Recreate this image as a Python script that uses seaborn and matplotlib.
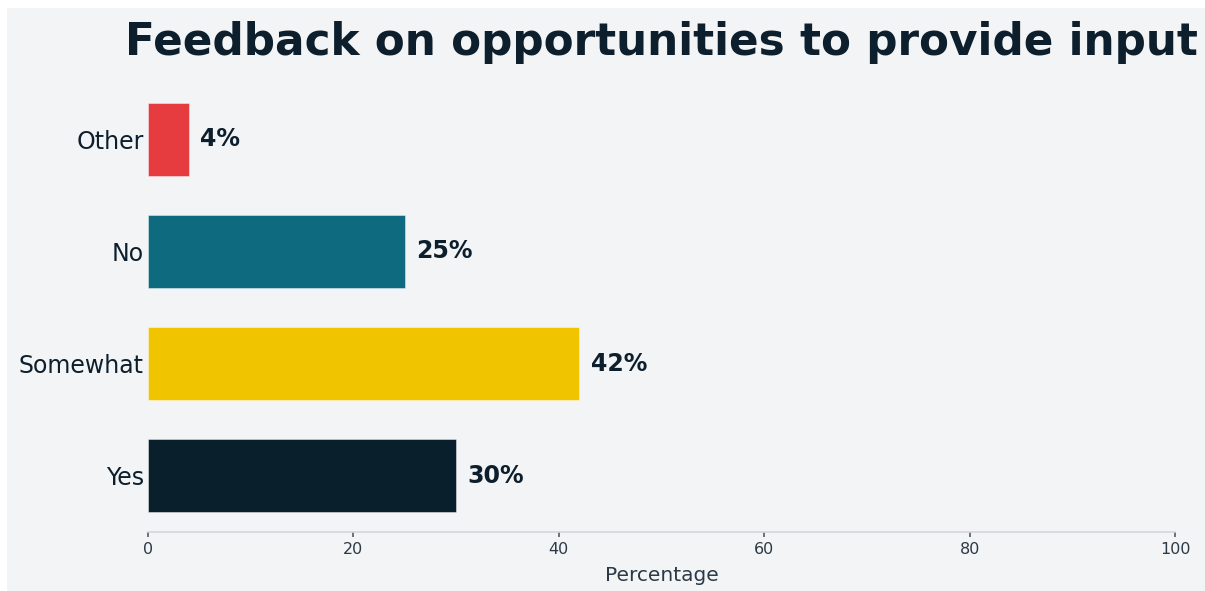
import matplotlib
matplotlib.use("Agg")
import matplotlib.pyplot as plt
import seaborn as sns
import pandas as pd
from matplotlib.patches import Rectangle

categories = ["Other", "No", "Somewhat", "Yes"]
values = [4, 25, 42, 30]
colors = ["#e63b3f", "#0e6a7e", "#f1c400", "#0a1f2c"]
xticks = [0, 20, 40, 60, 80, 100]

sns.set_theme(style="white")
plt.rcParams['font.family'] = ['DejaVu Sans']

bg = "#f3f4f6"
txt = "#0d1f2d"

fig = plt.figure(figsize=(12.05, 5.91), dpi=100, facecolor="white")
fig.patches.append(Rectangle((7/1205, 0), 1, 1 - 8/591, transform=fig.transFigure,
                             facecolor=bg, edgecolor="none", zorder=-10))
ax = fig.add_axes([148/1205, 59/591, (1175-148)/1205, (532-83)/591])
ax.set_facecolor(bg)

df = pd.DataFrame({"category": categories, "value": values})
sns.barplot(data=df, x="value", y="category", hue="category", palette=colors,
            legend=False, orient="h", width=0.65, ax=ax, saturation=1,
            linewidth=0.6, edgecolor="#ffffff80")

for i, v in enumerate(values):
    ax.text(v + 1.1, i, f"{v}%", va="center", ha="left", fontsize=17,
            fontweight="bold", color=txt)

ax.set_xlim(0, 100)
ax.set_xticks(xticks)
ax.set_xticklabels([str(t) for t in xticks], fontsize=11.5, color="#2b3a46")
ax.tick_params(axis="x", bottom=True, length=3.5, color="#555b62", width=1.2, pad=4)
ax.tick_params(axis="y", left=False, length=0, labelsize=17, labelcolor=txt, pad=3)
ax.set_ylabel("")
ax.set_xlabel("Percentage", fontsize=14.5, color="#2b3a46", labelpad=6)
for s in ["top", "right", "left"]:
    ax.spines[s].set_visible(False)
ax.spines["bottom"].set_color("#d3d7dc")
ax.spines["bottom"].set_linewidth(1.2)

ax.set_title("Feedback on opportunities to provide input", fontsize=31.5,
             fontweight="bold", color=txt, pad=20)

fig.savefig("out.png", dpi=100, facecolor="white")
